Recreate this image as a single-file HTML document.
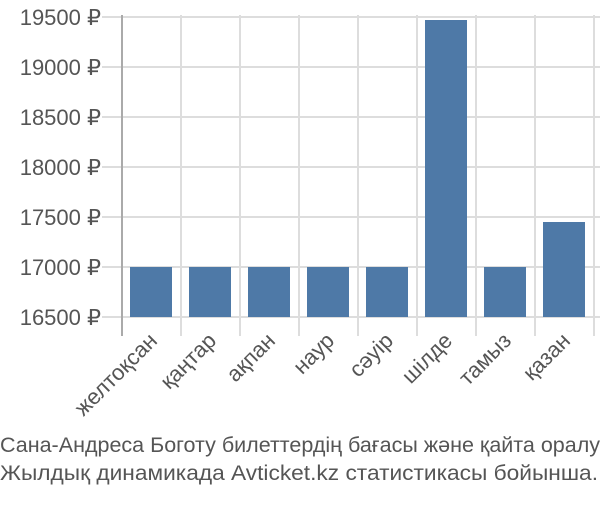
<!DOCTYPE html>
<html><head><meta charset="utf-8"><style>
body{margin:0;background:#fff;width:600px;height:500px;overflow:hidden;font-family:"Liberation Sans",sans-serif}
text{font-family:"Liberation Sans",sans-serif}
</style></head><body>
<svg width="600" height="500">
<g id="grid"></g><g id="bars"></g><g id="labels"></g>
<text x="0" y="452" font-size="21" fill="#555" textLength="600" lengthAdjust="spacingAndGlyphs">Сана-Андреса Боготу билеттердің бағасы және қайта оралу</text>
<text x="0" y="480" font-size="21" fill="#555" textLength="598" lengthAdjust="spacingAndGlyphs">Жылдық динамикада Avticket.kz статистикасы бойынша.</text>
</svg>
<script>
const categories=["желтоқсан","қаңтар","ақпан","наур","сәуір","шілде","тамыз","қазан"];
const values=[17000,17000,17000,17000,17000,19470,17000,17450];
const ticks=[16500,17000,17500,18000,18500,19000,19500];
const NS="http://www.w3.org/2000/svg";
const x0=122,band=59,yBase=317,yMin=16500,pxPer=0.1;
const y=v=>yBase-(v-yMin)*pxPer;
const xc=i=>x0+band*i;
function mk(t,a,p){const e=document.createElementNS(NS,t);for(const k in a)e.setAttribute(k,a[k]);p.appendChild(e);return e;}
const g=document.getElementById('grid'),b=document.getElementById('bars'),l=document.getElementById('labels');
ticks.forEach(t=>{
 const ln=mk('line',{x1:102,x2:600,y1:y(t),y2:y(t),stroke:'#ddd','stroke-width':2},g);
 
 
 const tx=mk('text',{x:101,y:y(t)+8,'text-anchor':'end','font-size':22,fill:'#555'},l);
 tx.textContent=t+' ₽';
 
 
});
for(let i=1;i<=categories.length;i++){
 const ln=mk('line',{x1:xc(i),x2:xc(i),y1:15,y2:336,stroke:'#ddd','stroke-width':2},g);
 
 
}
const ax=mk('line',{x1:x0,x2:x0,y1:15,y2:336,stroke:'#aaa','stroke-width':2},g);


categories.forEach((c,i)=>{
 const r=mk('rect',{x:xc(i)+8,y:y(values[i]),width:42,height:yBase-y(values[i]),fill:'#4e79a7'},b);
 
 
 const cx=xc(i)+band/2+7,cy=342;
 const t=mk('text',{x:cx,y:cy,'text-anchor':'end','font-size':22,fill:'#555',transform:`rotate(-45 ${cx} ${cy})`},l);
 t.textContent=c;
 
 
});
</script>
</body></html>
